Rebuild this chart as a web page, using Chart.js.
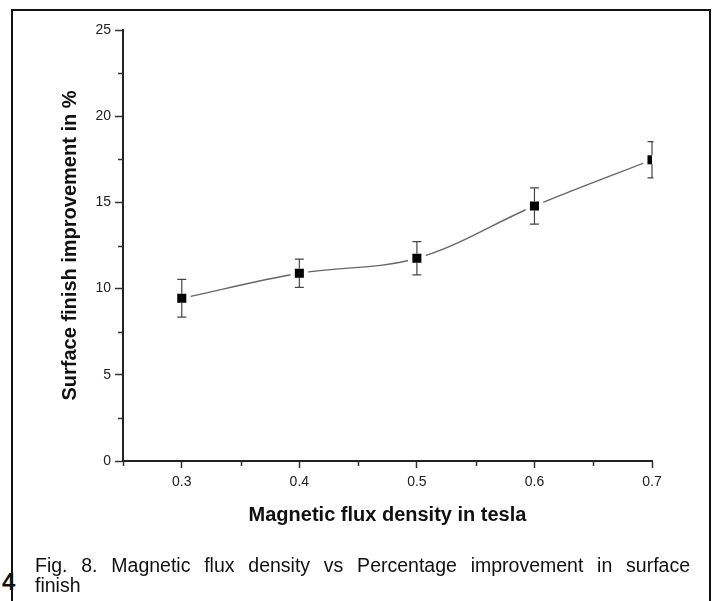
<!DOCTYPE html>
<html>
<head>
<meta charset="utf-8">
<script src="https://cdn.jsdelivr.net/npm/chart.js@4"></script>
<style>
  html, body { margin: 0; padding: 0; background: #fff; }
  body { width: 714px; height: 601px; position: relative; overflow: hidden; font-family: "Liberation Sans", Arial, sans-serif; }
  #frame { position: absolute; left: 11px; top: 9px; width: 696px; height: 640px; border: 2.5px solid #111; border-bottom: none; }
  #wrap { position: absolute; left: 0; top: 0; width: 714px; height: 601px; }
  #caption { position: absolute; left: 35px; top: 555px; width: 655px; font-size: 19.5px; line-height: 20px; color: #111; }
  #caption .l1 { text-align: justify; text-align-last: justify; white-space: nowrap; }
  #pageno { position: absolute; left: 2px; top: 570px; font-size: 24px; font-weight: bold; line-height: 24px; color: #111; }
</style>
</head>
<body>
<div id="pageno">4</div>
<div id="frame"></div>
<div id="wrap"><canvas id="fluxChart" width="714" height="601"></canvas></div>
<div id="caption"><div class="l1">Fig. 8. Magnetic flux density vs Percentage improvement in surface</div><div>finish</div></div>
<script>
// magnetic flux density (tesla) and surface finish improvement (%)
var flux = [0.3, 0.4, 0.5, 0.6, 0.7];
var improvement = [9.44, 10.89, 11.76, 14.79, 17.47];
var errorBar = [1.1, 0.82, 0.96, 1.05, 1.05];

var xTitle = 'Magnetic flux density in tesla';
var yTitle = 'Surface finish improvement in %';

var points = flux.map(function (x, i) { return { x: x, y: improvement[i] }; });

function isMajor(v, step) {
  var q = v / step;
  return Math.abs(q - Math.round(q)) < 1e-6;
}

// error bars, drawn on top of the markers
var errorBars = {
  id: 'errorBars',
  afterDatasetsDraw: function (chart) {
    var ctx = chart.ctx, area = chart.chartArea;
    var xs = chart.scales.x, ys = chart.scales.y;
    ctx.save();
    ctx.beginPath();
    ctx.rect(area.left - 5, area.top - 20, area.right + 1.5 - (area.left - 5), area.bottom - area.top + 40);
    ctx.clip();
    ctx.strokeStyle = '#444';
    ctx.lineWidth = 1.2;
    for (var i = 0; i < flux.length; i++) {
      var px = xs.getPixelForValue(flux[i]);
      var top = ys.getPixelForValue(improvement[i] + errorBar[i]);
      var bot = ys.getPixelForValue(improvement[i] - errorBar[i]);
      var mid = ys.getPixelForValue(improvement[i]);
      ctx.beginPath();
      ctx.moveTo(px, top); ctx.lineTo(px, mid - 4.5);
      ctx.moveTo(px, mid + 4.5); ctx.lineTo(px, bot);
      ctx.moveTo(px - 4.5, top); ctx.lineTo(px + 4.5, top);
      ctx.moveTo(px - 4.5, bot); ctx.lineTo(px + 4.5, bot);
      ctx.stroke();
    }
    ctx.restore();
  }
};

// shorter minor ticks
var minorTicks = {
  id: 'minorTicks',
  afterDraw: function (chart) {
    var ctx = chart.ctx, area = chart.chartArea;
    var xs = chart.scales.x, ys = chart.scales.y;
    ctx.save();
    ctx.strokeStyle = '#333';
    ctx.lineWidth = 1.5;
    ctx.beginPath();
    xs.ticks.forEach(function (t) {
      if (isMajor(t.value, 0.1)) return;
      var px = Math.round(xs.getPixelForValue(t.value)) + 0.5;
      ctx.moveTo(px, area.bottom); ctx.lineTo(px, area.bottom + 5);
    });
    ys.ticks.forEach(function (t) {
      if (isMajor(t.value, 5)) return;
      var py = Math.round(ys.getPixelForValue(t.value)) + 0.5;
      ctx.moveTo(area.left, py); ctx.lineTo(area.left - 5, py);
    });
    ctx.stroke();
    ctx.restore();
  }
};

new Chart(document.getElementById('fluxChart'), {
  type: 'line',
  data: {
    datasets: [{
      data: points,
      borderColor: '#666',
      borderWidth: 1.4,
      tension: 0.35,
      pointRadius: 0,
      fill: false,
      clip: 0,
      order: 3
    }, {
      data: points,
      showLine: false,
      pointStyle: 'rect',
      pointRadius: 12.5,
      pointBackgroundColor: '#fff',
      pointBorderWidth: 0,
      clip: 0,
      order: 2
    }, {
      data: points,
      showLine: false,
      pointStyle: 'rect',
      pointRadius: 6.4,
      pointBackgroundColor: '#000',
      pointBorderWidth: 0,
      clip: 0,
      order: 1
    }]
  },
  options: {
    responsive: false,
    animation: false,
    layout: { padding: { left: 55, top: 30, right: 62, bottom: 71 } },
    plugins: { legend: { display: false }, tooltip: { enabled: false } },
    scales: {
      x: {
        type: 'linear',
        min: 0.25,
        max: 0.7,
        afterFit: function (scale) { scale.height = 69; },
        border: { display: true, color: '#222', width: 2 },
        grid: {
          display: true, drawOnChartArea: false, drawTicks: true, tickLength: 7, tickWidth: 1.5,
          tickColor: function (c) { return c.tick && isMajor(c.tick.value, 0.1) ? '#333' : 'rgba(0,0,0,0)'; }
        },
        ticks: {
          stepSize: 0.05,
          padding: 6,
          color: '#222',
          font: { family: '"Liberation Sans", Arial, sans-serif', size: 14 },
          maxRotation: 0,
          autoSkip: false,
          callback: function (v) { return isMajor(v, 0.1) ? v.toFixed(1) : ''; }
        },
        title: {
          display: true,
          text: xTitle,
          color: '#111',
          font: { family: '"Liberation Sans", Arial, sans-serif', size: 20, weight: 'bold' },
          padding: { top: 4, bottom: 3 }
        }
      },
      y: {
        min: 0,
        max: 25,
        afterFit: function (scale) { scale.width = 68; },
        border: { display: true, color: '#222', width: 2 },
        grid: {
          display: true, drawOnChartArea: false, drawTicks: true, tickLength: 8, tickWidth: 1.5,
          tickColor: function (c) { return c.tick && isMajor(c.tick.value, 5) ? '#333' : 'rgba(0,0,0,0)'; }
        },
        ticks: {
          stepSize: 2.5,
          padding: 4,
          color: '#222',
          font: { family: '"Liberation Sans", Arial, sans-serif', size: 14 },
          autoSkip: false,
          callback: function (v) { return isMajor(v, 5) ? String(v) : ''; }
        },
        title: {
          display: true,
          text: yTitle,
          color: '#111',
          font: { family: '"Liberation Sans", Arial, sans-serif', size: 20, weight: 'bold' },
          padding: { top: 3, bottom: 4 }
        }
      }
    }
  },
  plugins: [errorBars, minorTicks]
});
</script>
</body>
</html>
